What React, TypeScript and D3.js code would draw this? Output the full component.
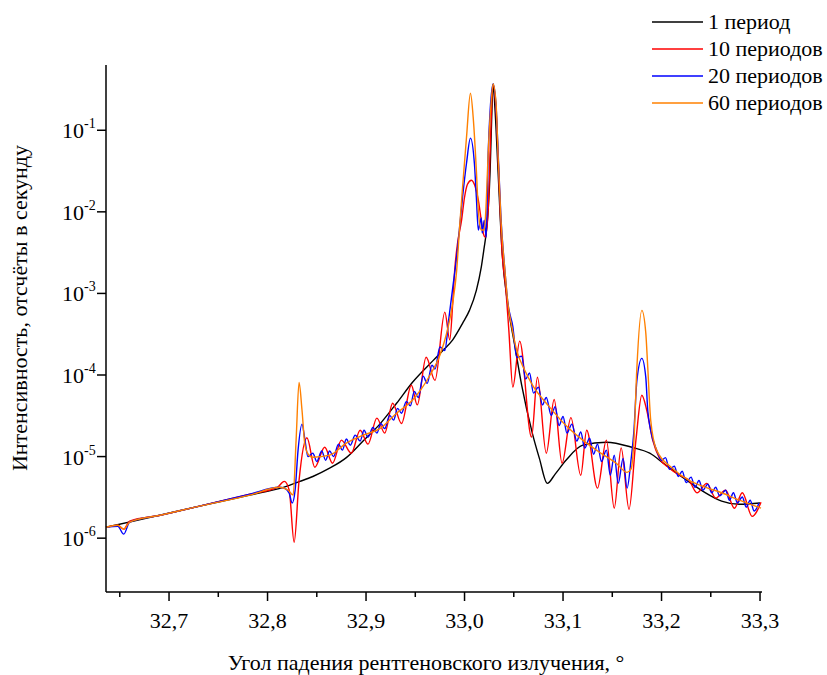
import * as d3 from 'd3';

// [angle, intensity]
const period1: [number, number][] = [
  [32.636, 1.36e-6], [32.681, 1.8e-6], [32.731, 2.47e-6], [32.782, 3.37e-6], [32.816, 4.2e-6],
  [32.833, 4.96e-6], [32.846, 5.7e-6], [32.863, 7.2e-6], [32.880, 9.7e-6], [32.897, 1.55e-5],
  [32.914, 2.5e-5], [32.931, 4.5e-5], [32.947, 8.1e-5], [32.968, 1.5e-4], [32.978, 2.0e-4],
  [32.988, 2.7e-4], [32.998, 4.3e-4], [33.005, 6.2e-4], [33.012, 1.09e-3], [33.017, 2.1e-3],
  [33.020, 3.7e-3], [33.022, 5.5e-3], [33.024, 0.0105], [33.026, 0.0324], [33.0275, 0.133],
  [33.029, 0.37], [33.031, 0.176], [33.034, 0.032], [33.038, 0.0034],
  [33.044, 7.2e-4], [33.051, 2.3e-4], [33.058, 7.5e-5], [33.069, 1.9e-5], [33.076, 9.5e-6],
  [33.084, 4.7e-6], [33.092, 6.1e-6], [33.103, 9.0e-6], [33.120, 1.38e-5], [33.144, 1.5e-5],
  [33.170, 1.3e-5], [33.188, 1.1e-5], [33.203, 8.1e-6], [33.223, 5.4e-6], [33.243, 3.7e-6],
  [33.261, 2.85e-6], [33.279, 2.6e-6], [33.300, 2.7e-6],
];

const periods10: [number, number][] = [
  [32.636, 1.36e-6], [32.648, 1.44e-6], [32.654, 1.29e-6], [32.660, 1.62e-6], [32.691, 1.91e-6],
  [32.731, 2.47e-6], [32.782, 3.47e-6], [32.810, 4.2e-6], [32.817, 4.96e-6], [32.822, 3.87e-6],
  [32.827, 8.9e-7], [32.832, 5.1e-6], [32.840, 1.7e-5], [32.848, 7.4e-6], [32.858, 1.3e-5],
  [32.866, 8.3e-6], [32.875, 1.59e-5], [32.885, 1.1e-5], [32.894, 2.1e-5], [32.902, 1.42e-5],
  [32.911, 2.96e-5], [32.919, 1.94e-5], [32.927, 4.5e-5], [32.936, 2.54e-5], [32.946, 7.5e-5],
  [32.952, 4.3e-5], [32.961, 1.65e-4], [32.970, 8.6e-5], [32.980, 5.9e-4], [32.985, 2.7e-4],
  [32.988, 7.6e-4], [32.990, 1.92e-3], [32.993, 4.2e-3], [32.997, 0.0079], [33.000, 0.0151],
  [33.003, 0.0218], [33.007, 0.0244], [33.011, 0.020], [33.014, 0.0139], [33.017, 0.0079],
  [33.019, 0.0055], [33.021, 0.0049], [33.024, 0.0105], [33.026, 0.0569], [33.029, 0.356],
  [33.032, 0.176], [33.035, 0.0244], [33.038, 0.0034], [33.042, 0.0011], [33.045, 3.5e-4],
  [33.049, 7.1e-5], [33.056, 2.6e-4], [33.068, 1.73e-5], [33.074, 9.4e-5], [33.083, 1.1e-5],
  [33.091, 5.0e-5], [33.099, 8.3e-6], [33.108, 3.0e-5], [33.118, 5.9e-6], [33.124, 2.1e-5],
  [33.135, 4.1e-6], [33.144, 1.59e-5], [33.152, 2.33e-6], [33.159, 1.28e-5], [33.167, 2.26e-6],
  [33.174, 1.59e-5], [33.180, 5.65e-5], [33.185, 3.7e-5], [33.191, 1.59e-5], [33.198, 9.5e-6],
  [33.208, 7.2e-6], [33.218, 5.9e-6], [33.228, 5.1e-6], [33.236, 3.6e-6], [33.246, 4.7e-6],
  [33.255, 3.1e-6], [33.265, 3.87e-6], [33.274, 2.33e-6], [33.282, 3.6e-6], [33.292, 1.85e-6],
  [33.301, 2.75e-6],
];

const periods20: [number, number][] = [
  [32.636, 1.36e-6], [32.648, 1.40e-6], [32.654, 1.12e-6], [32.660, 1.57e-6], [32.691, 1.91e-6],
  [32.731, 2.47e-6], [32.782, 3.47e-6], [32.812, 4.2e-6], [32.817, 4.1e-6], [32.822, 3.55e-6],
  [32.825, 2.7e-6], [32.828, 3.87e-6], [32.831, 1.2e-5], [32.835, 2.5e-5], [32.838, 1.59e-5],
  [32.841, 1.0e-5], [32.846, 1.1e-5], [32.850, 8.7e-6], [32.855, 1.17e-5], [32.859, 9.0e-6],
  [32.863, 1.17e-5], [32.867, 1.0e-5], [32.872, 1.42e-5], [32.876, 1.2e-5], [32.880, 1.64e-5],
  [32.884, 1.38e-5], [32.889, 1.83e-5], [32.894, 1.55e-5], [32.898, 2.1e-5], [32.902, 1.73e-5],
  [32.907, 2.27e-5], [32.911, 1.94e-5], [32.915, 2.54e-5], [32.919, 2.2e-5], [32.924, 3.2e-5],
  [32.928, 2.8e-5], [32.932, 3.9e-5], [32.936, 3.4e-5], [32.941, 4.75e-5], [32.945, 4.2e-5],
  [32.949, 6.3e-5], [32.953, 5.3e-5], [32.958, 9.7e-5], [32.962, 7.9e-5], [32.967, 1.32e-4],
  [32.970, 1.18e-4], [32.975, 2.2e-4], [32.980, 2.0e-4], [32.984, 4.85e-4], [32.988, 1.17e-3],
  [32.992, 2.8e-3], [32.995, 6.5e-3], [32.998, 0.0151], [33.002, 0.0394], [33.006, 0.080],
  [33.010, 0.0394], [33.012, 0.0151], [33.014, 0.0060], [33.017, 0.0084], [33.018, 0.0055],
  [33.020, 0.0079], [33.022, 0.0049], [33.024, 0.0523], [33.026, 0.176], [33.029, 0.37],
  [33.032, 0.2], [33.034, 0.057], [33.037, 0.0084], [33.041, 0.0019], [33.044, 7.6e-4],
  [33.049, 3.95e-4], [33.053, 1.65e-4], [33.058, 1.7e-4], [33.062, 8.9e-5], [33.066, 1.06e-4],
  [33.070, 6.0e-5], [33.075, 7.1e-5], [33.079, 4.3e-5], [33.083, 5.3e-5], [33.088, 3.2e-5],
  [33.092, 4.1e-5], [33.096, 2.4e-5], [33.100, 3.1e-5], [33.104, 1.94e-5], [33.109, 2.5e-5],
  [33.114, 1.55e-5], [33.118, 2.0e-5], [33.122, 1.27e-5], [33.127, 1.68e-5], [33.131, 1.07e-5],
  [33.135, 1.42e-5], [33.139, 8.7e-6], [33.144, 1.2e-5], [33.148, 5.9e-6], [33.152, 1.04e-5],
  [33.156, 4.7e-6], [33.161, 9.5e-6], [33.165, 4.1e-6], [33.169, 9.0e-6], [33.172, 2.1e-5],
  [33.175, 8.6e-5], [33.180, 1.6e-4], [33.184, 9.4e-5], [33.186, 3.7e-5], [33.189, 2.1e-5],
  [33.195, 1.2e-5], [33.200, 9.0e-6], [33.204, 9.7e-6], [33.208, 7.0e-6], [33.213, 7.6e-6],
  [33.217, 5.7e-6], [33.221, 6.6e-6], [33.225, 4.8e-6], [33.230, 5.6e-6], [33.234, 4.2e-6],
  [33.238, 5.1e-6], [33.242, 3.87e-6], [33.247, 4.6e-6], [33.251, 3.6e-6], [33.255, 4.2e-6],
  [33.259, 3.3e-6], [33.265, 3.87e-6], [33.269, 2.92e-6], [33.273, 3.6e-6], [33.277, 2.7e-6],
  [33.282, 3.2e-6], [33.286, 2.4e-6], [33.290, 2.92e-6], [33.294, 2.15e-6], [33.299, 2.7e-6],
];

const periods60: [number, number][] = [
  [32.636, 1.36e-6], [32.648, 1.44e-6], [32.654, 1.29e-6], [32.660, 1.57e-6], [32.691, 1.91e-6],
  [32.731, 2.47e-6], [32.782, 3.37e-6], [32.812, 4.2e-6], [32.821, 3.87e-6], [32.826, 3.37e-6],
  [32.829, 1.59e-5], [32.832, 8.1e-5], [32.835, 3.7e-5], [32.838, 1.38e-5], [32.842, 1.04e-5],
  [32.846, 9.8e-6], [32.863, 1.04e-5], [32.880, 1.46e-5], [32.897, 1.83e-5], [32.914, 2.2e-5],
  [32.931, 3.4e-5], [32.947, 4.9e-5], [32.965, 1.0e-4], [32.975, 1.75e-4], [32.982, 3.3e-4],
  [32.988, 7.6e-4], [32.992, 1.9e-3], [32.995, 6.5e-3], [32.998, 0.020], [33.002, 0.082],
  [33.006, 0.284], [33.009, 0.133], [33.012, 0.0324], [33.014, 0.0105], [33.017, 0.0060],
  [33.020, 0.0060], [33.022, 0.0128], [33.024, 0.0523], [33.027, 0.214], [33.029, 0.37],
  [33.032, 0.214], [33.034, 0.0523], [33.037, 0.0079], [33.041, 0.0019], [33.044, 7.6e-4],
  [33.048, 3.9e-4], [33.053, 2.0e-4], [33.061, 1.15e-4], [33.069, 7.5e-5], [33.086, 4.1e-5],
  [33.103, 2.4e-5], [33.120, 1.59e-5], [33.137, 1.13e-5], [33.154, 8.3e-6], [33.165, 6.4e-6],
  [33.169, 7.0e-6], [33.172, 1.59e-5], [33.175, 1.25e-4], [33.180, 6.2e-4], [33.184, 3.3e-4],
  [33.186, 1.25e-4], [33.189, 2.8e-5], [33.195, 1.2e-5], [33.211, 7.2e-6], [33.228, 5.1e-6],
  [33.245, 4.2e-6], [33.261, 3.6e-6], [33.279, 2.92e-6], [33.301, 2.33e-6],
];

const seriesNames = ['1 период', '10 периодов', '20 периодов', '60 периодов'];
const seriesColors = ['#000000', '#ff0000', '#0000ff', '#ff8000'];
const xTicks = [32.7, 32.8, 32.9, 33.0, 33.1, 33.2, 33.3];
const xMinorTicks = [32.65, 32.75, 32.85, 32.95, 33.05, 33.15, 33.25];
const yExponents = [-1, -2, -3, -4, -5, -6];

const left = 106, right = 762, top = 65, bottom = 592;
const serif = { fontFamily: "'Liberation Serif', FreeSerif, Tinos", fontSize: '22px' };

export default function App() {
  const x = d3.scaleLinear().domain([32.636, 33.302]).range([left, right]);
  const y = d3.scaleLog().domain([Math.pow(10, -6.66), Math.pow(10, -0.2)]).range([bottom, top]);

  const line = d3.line<[number, number]>()
    .x(d => x(d[0]))
    .y(d => y(d[1]))
    .curve(d3.curveMonotoneX);

  const fmt = d3.format(".1f");
  const series = [period1, periods10, periods20, periods60];

  return (
    <svg width={827} height={675} style={{ position: 'absolute', left: 0, top: 0, background: '#fff' }}>
      {series.map((s, i) => (
        <path key={i} d={line(s) || ''} fill="none" stroke={seriesColors[i]} strokeWidth={1.4} strokeLinejoin="round" />
      ))}

      <g stroke="#000" strokeWidth={1.5}>
        <line x1={left} x2={left} y1={top} y2={bottom} />
        <line x1={left} x2={right} y1={bottom} y2={bottom} />
        {xTicks.map(t => <line key={t} x1={x(t)} x2={x(t)} y1={bottom} y2={bottom + 9} />)}
        {xMinorTicks.map(t => <line key={t} x1={x(t)} x2={x(t)} y1={bottom} y2={bottom + 5} />)}
        {yExponents.map(e => (
          <line key={e} x1={left - 9} x2={left} y1={y(Math.pow(10, e))} y2={y(Math.pow(10, e))} />
        ))}
      </g>

      {xTicks.map(t => (
        <text key={t} x={x(t)} y={bottom + 36} textAnchor="middle" style={serif}>
          {fmt(t).replace('.', ',')}
        </text>
      ))}

      {yExponents.map(e => (
        <text key={e} x={62} y={y(Math.pow(10, e)) + 8} style={serif}>
          <tspan>10</tspan>
          <tspan dy={-10} style={{ fontSize: '14px' }}>{String(e)}</tspan>
        </text>
      ))}

      <text x={426} y={670} textAnchor="middle" style={serif}>
        Угол падения рентгеновского излучения, °
      </text>
      <text transform="translate(27,308) rotate(-90)" textAnchor="middle" style={serif}>
        Интенсивность, отсчёты в секунду
      </text>

      {seriesNames.map((name, i) => {
        const ly = 22 + i * 27;
        return (
          <g key={name}>
            <line x1={652} x2={703} y1={ly} y2={ly} stroke={seriesColors[i]} strokeWidth={1.4} />
            <text x={708} y={ly + 7} style={serif}>{name}</text>
          </g>
        );
      })}
    </svg>
  );
}
